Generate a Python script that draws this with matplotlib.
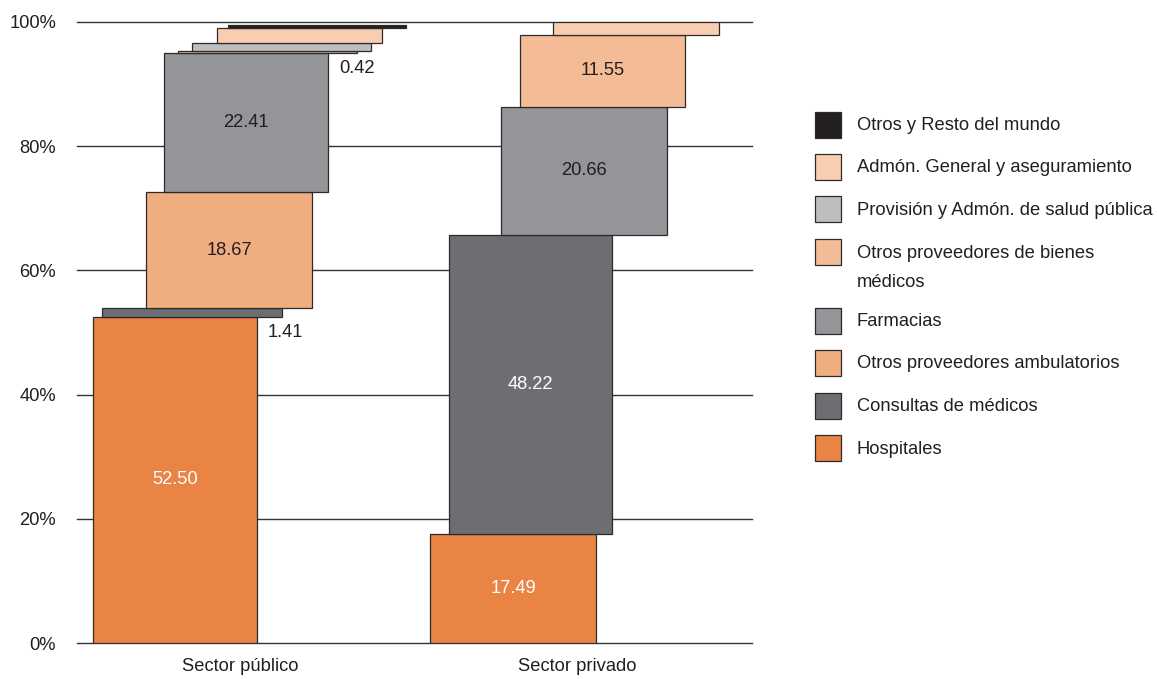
import matplotlib
matplotlib.use("Agg")
import matplotlib.pyplot as plt
from matplotlib.patches import Rectangle

plt.rcParams['font.family'] = ['Liberation Sans', 'DejaVu Sans']

## ## ## ## ## ## ## ## ##
## data
## ## ## ## ## ## ## ## ##
sectores = ["Sector público", "Sector privado"]

# capas de abajo hacia arriba
capas = [
    "Hospitales",
    "Consultas de médicos",
    "Otros proveedores ambulatorios",
    "Farmacias",
    "Otros proveedores de bienes médicos",
    "Provisión y Admón. de salud pública",
    "Admón. General y aseguramiento",
    "Otros y Resto del mundo",
]
publico = [52.50, 1.41, 18.67, 22.41, 0.42, 1.14, 2.42, 0.61]
privado = [17.49, 48.22, 0.0, 20.66, 11.55, 0.0, 2.08, 0.0]
etiq_publico = ["52.50", "1.41", "18.67", "22.41", "0.42", "", "", ""]
etiq_privado = ["17.49", "48.22", "", "20.66", "11.55", "", "", ""]
y_ticks = [0, 20, 40, 60, 80, 100]

## ## ## ## ## ## ## ## ##
## estilo / layout
## ## ## ## ## ## ## ## ##
colores = ["#EA8445", "#6D6E71", "#F0AE80", "#939598",
           "#F4BC96", "#BCBEC0", "#F9CDB0", "#231F20"]
color_texto = ["white", "white", "#231F20", "#231F20",
               "#231F20", "#231F20", "#231F20", "#231F20"]
TXT = "#231F20"
FS = 13.2
PX = 1 / 337.0   # px -> unidades de categoria
# desplazamiento (px) del borde izq. de cada capa y su ancho (px)
desp = [[0, 9, 53, 71, 85, 99, 124, 135],
        [0, 19, 71, 71, 90, 104, 123, 135]]
ancho = [[164, 180, 166, 164, 179, 179, 165, 178],
         [166, 163, 165, 166, 165, 165, 166, 165]]

W, H = 1157, 679
fig = plt.figure(figsize=(W / 100, H / 100), dpi=100)
ax = fig.add_axes([77 / W, (H - 643) / H, (752 - 77) / W, 621 / H])

for g, (vals, etiqs) in enumerate([(publico, etiq_publico), (privado, etiq_privado)]):
    base = 0.0
    prev_right = None
    for k, v in enumerate(vals):
        left = g + (desp[g][k] - 82) * PX
        w = ancho[g][k] * PX
        if v > 0:
            ax.bar(left, v, width=w, bottom=base, align="edge",
                   color=colores[k], edgecolor="#2b2b2b", linewidth=0.9, zorder=3)
            if etiqs[k]:
                if v >= 2:
                    ax.text(left + w / 2, base + v / 2, etiqs[k], ha="center", va="center",
                            fontsize=FS, color=color_texto[k], zorder=4)
                else:
                    # etiqueta fuera, debajo a la derecha
                    ax.annotate(etiqs[k], (prev_right, base), xytext=(8, -5),
                                textcoords="offset points", ha="left", va="top",
                                fontsize=FS, color=TXT, zorder=4)
            prev_right = left + w
        base += v

ax.set_xlim(-98 * PX, 577 * PX)
ax.set_ylim(0, 100)
ax.set_yticks(y_ticks)
ax.set_yticklabels([f"{t}%" for t in y_ticks])
ax.set_xticks([i + 65 * PX for i in range(len(sectores))])
ax.set_xticklabels(sectores)
ax.tick_params(axis="y", length=0, pad=15, labelsize=FS, labelcolor=TXT)
ax.tick_params(axis="x", length=0, pad=11, labelsize=FS, labelcolor=TXT)
for s in ax.spines.values():
    s.set_visible(False)
ax.yaxis.grid(True, color="#333333", linewidth=1.0, zorder=0)
ax.xaxis.grid(False)
ax.set_axisbelow(True)
for gl in ax.get_ygridlines():
    gl.set_clip_on(False)

## ## ## ## ## ## ## ## ##
## leyenda manual (de arriba hacia abajo)
## ## ## ## ## ## ## ## ##
y = 124.5
for k in range(len(capas) - 1, -1, -1):
    fig.add_artist(Rectangle((815 / W, 1 - (y + 13) / H), 26 / W, 26 / H,
                             transform=fig.transFigure, facecolor=colores[k],
                             edgecolor="#2b2b2b", linewidth=0.9))
    nombre = capas[k]
    lineas = ["Otros proveedores de bienes", "médicos"] if k == 4 else [nombre]
    for j, ln in enumerate(lineas):
        fig.text(857 / W, 1 - (y + 1 + 29 * j) / H, ln, ha="left", va="center",
                 fontsize=FS, color=TXT)
    y += 42.5 + 26 * (len(lineas) - 1)

fig.savefig("out.png", dpi=100)
